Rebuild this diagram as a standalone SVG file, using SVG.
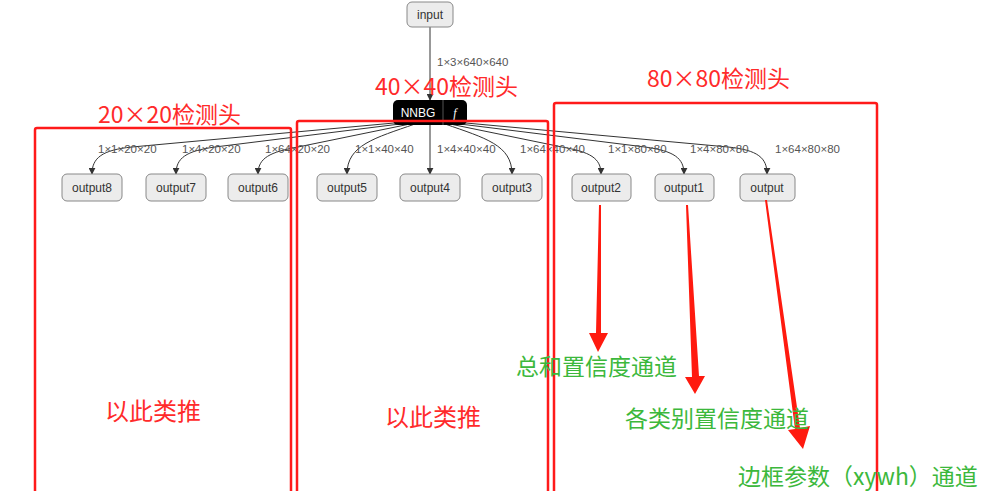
<svg xmlns="http://www.w3.org/2000/svg" width="993" height="491" viewBox="0 0 993 491">
<defs>
<marker id="ah" viewBox="0 0 10 10" refX="9" refY="5" markerWidth="7" markerHeight="7" markerUnits="userSpaceOnUse" orient="auto"><path d="M0,0 L10,5 L0,10 z" fill="#333"/></marker>
<style>
.node rect{fill:#ececec;stroke:#888;stroke-width:1}
.node text{font-family:"Segoe UI","Liberation Sans",Arial,sans-serif;font-size:12px;fill:#333;text-anchor:middle}
.edge{fill:none;stroke:#333;stroke-width:1;marker-end:url(#ah)}
.lbl{font-family:"Liberation Sans",Arial,sans-serif;font-size:11.5px;fill:#555}
.box{fill:none;stroke:#ff1a1a;stroke-width:2.5}
.red{font-family:"Noto Sans CJK SC","Liberation Sans",sans-serif;fill:#ff2a2a}
.green{font-family:"Noto Sans CJK SC","Liberation Sans",sans-serif;fill:#3cb83c;font-size:23px}
.arrow{fill:#ff1a0f}
</style>
</defs>
<rect width="993" height="491" fill="#ffffff"/>

<g id="connectors">
<path class="edge" d="M430,27 L430,100"/>
<path class="edge" d="M405,122 L132,147 C102,150 92,158 92,174"/>
<path class="edge" d="M408,123 L215,147 C186,151 176,158 176,174"/>
<path class="edge" d="M410,124 L298,147 C270,152 258,158 258,174"/>
<path class="edge" d="M415,124 C375,138 347,145 347,174"/>
<path class="edge" d="M430,125 L430,174"/>
<path class="edge" d="M445,124 C485,138 512,145 512,174"/>
<path class="edge" d="M450,124 L562,147 C590,152 601,158 601,174"/>
<path class="edge" d="M452,123 L645,147 C674,151 684,158 684,174"/>
<path class="edge" d="M455,122 L728,147 C758,150 767,158 767,174"/>
</g>

<g id="edge-labels">
<text class="lbl" x="437" y="66">1×3×640×640</text>
<text class="lbl" x="98" y="153">1×1×20×20</text>
<text class="lbl" x="182" y="153">1×4×20×20</text>
<text class="lbl" x="265" y="153">1×64×20×20</text>
<text class="lbl" x="355" y="153">1×1×40×40</text>
<text class="lbl" x="437" y="153">1×4×40×40</text>
<text class="lbl" x="520" y="153">1×64×40×40</text>
<text class="lbl" x="608" y="153">1×1×80×80</text>
<text class="lbl" x="690" y="153">1×4×80×80</text>
<text class="lbl" x="775" y="153">1×64×80×80</text>
</g>

<g id="input" class="node"><rect x="407" y="2" width="46" height="25" rx="5"/><text x="430" y="19">input</text></g>

<g id="nnbg">
<rect x="393" y="100" width="74" height="25" rx="5" fill="#000"/>
<line x1="443" y1="100" x2="443" y2="125" stroke="#555" stroke-width="1"/>
<text x="418" y="117" font-family="'Segoe UI','Liberation Sans',sans-serif" font-size="12" fill="#fff" text-anchor="middle">NNBG</text>
<text x="455" y="117" font-family="'Liberation Serif',serif" font-size="12" font-style="italic" fill="#fff" text-anchor="middle">f</text>
</g>

<g id="output8" class="node"><rect x="62" y="174" width="60" height="27" rx="5"/><text x="92" y="192">output8</text></g>
<g id="output7" class="node"><rect x="146" y="174" width="60" height="27" rx="5"/><text x="176" y="192">output7</text></g>
<g id="output6" class="node"><rect x="228" y="174" width="60" height="27" rx="5"/><text x="258" y="192">output6</text></g>
<g id="output5" class="node"><rect x="317" y="174" width="60" height="27" rx="5"/><text x="347" y="192">output5</text></g>
<g id="output4" class="node"><rect x="400" y="174" width="60" height="27" rx="5"/><text x="430" y="192">output4</text></g>
<g id="output3" class="node"><rect x="482" y="174" width="60" height="27" rx="5"/><text x="512" y="192">output3</text></g>
<g id="output2" class="node"><rect x="572" y="174" width="59" height="27" rx="5"/><text x="601" y="192">output2</text></g>
<g id="output1" class="node"><rect x="655" y="174" width="59" height="27" rx="5"/><text x="684" y="192">output1</text></g>
<g id="output" class="node"><rect x="740" y="174" width="55" height="27" rx="5"/><text x="767" y="192">output</text></g>

<g id="annotations">
<rect class="box" x="35" y="128" width="256" height="380" rx="2"/>
<rect class="box" x="297" y="121" width="251" height="390" rx="2"/>
<rect class="box" x="554" y="103" width="323" height="400" rx="2"/>

<text class="red" x="375" y="95" font-size="23">40×40检测头</text>
<text class="red" x="98" y="123" font-size="23">20×20检测头</text>
<text class="red" x="647" y="87" font-size="23">80×80检测头</text>
<text class="red" x="105" y="420" font-size="24">以此类推</text>
<text class="red" x="385" y="426" font-size="24">以此类推</text>

<polygon class="arrow" points="599,205 601,205 601,333 608,333 598,352 589,333 596,333"/>
<polygon class="arrow" points="686,205 688,205 699,376 705,376 695,394 685,377 692,377"/>
<polygon class="arrow" points="765,200 767,200 800,428 810,426 803,449 788,430 795,429"/>

<text class="green" x="516" y="375">总和置信度通道</text>
<text class="green" x="625" y="427">各类别置信度通道</text>
<text class="green" x="738" y="485">边框参数（xywh）通道</text>
</g>
</svg>
